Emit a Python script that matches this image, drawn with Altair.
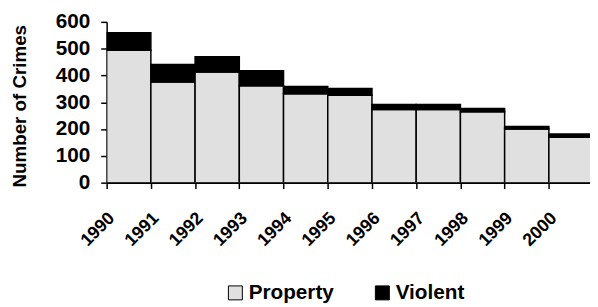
import altair as alt
import pandas as pd

years = [1990, 1991, 1992, 1993, 1994, 1995, 1996, 1997, 1998, 1999, 2000]
property_crimes = [494, 376, 413, 362, 332, 326, 273, 273, 265, 200, 169]
violent_crimes = [65, 65, 57, 56, 27, 25, 19, 19, 12, 10, 13]
categories = ["Property", "Violent"]
colors = ["#e0e0e0", "#000000"]
y_ticks = [0, 100, 200, 300, 400, 500, 600]

rows = []
for y, p, v in zip(years, property_crimes, violent_crimes):
    rows.append({"year": y, "type": "Property", "value": p, "ord": 0})
    rows.append({"year": y, "type": "Violent", "value": v, "ord": 1})
df = pd.DataFrame(rows)

FONT = "Liberation Sans"

chart = alt.Chart(df).transform_calculate(
    year_end="datum.year + 1"
).transform_stack(
    stack="value", groupby=["year"], as_=["v0", "v1"],
    sort=[alt.SortField("ord", order="ascending")]
).mark_bar(stroke="black", strokeWidth=1.5, clip=True).encode(
    x=alt.X("year:Q",
            scale=alt.Scale(domain=[1990, 2000.93], nice=False, zero=False),
            axis=alt.Axis(values=years, format="d", labelAngle=-45, labelAlign="right",
                          labelBaseline="middle", labelPadding=27, labelOffset=5,
                          tickSize=6, title=None, labelFontSize=18, labelFont=FONT,
                          labelFontWeight="bold")),
    x2="year_end:Q",
    y=alt.Y("v0:Q",
            scale=alt.Scale(domain=[0, 600], nice=False),
            axis=alt.Axis(values=y_ticks, tickSize=6, labelPadding=11,
                          title="Number of Crimes", titleX=-78, titleY=85,
                          labelFontSize=21, labelFont=FONT, labelFontWeight="bold",
                          titleFontSize=19, titleFont=FONT, titleFontWeight="bold")),
    y2="v1:Q",
    fill=alt.Fill("type:N", scale=alt.Scale(domain=categories, range=colors),
                  legend=alt.Legend(title=None, orient="none", legendX=120, legendY=264,
                                    direction="horizontal", symbolType="square",
                                    symbolSize=200, symbolStrokeColor="black",
                                    symbolStrokeWidth=1, labelFontSize=21,
                                    labelFont=FONT, labelFontWeight="bold",
                                    columnPadding=38, labelOffset=3)),
).properties(
    width=490, height=163,
    padding={"left": 100, "top": 12, "right": 0, "bottom": 124},
    autosize=alt.AutoSizeParams(type="none"),
).configure_axis(
    domainColor="black", domainWidth=1.5, tickColor="black", tickWidth=1.5,
    labelColor="black", titleColor="black", grid=False,
).configure_view(stroke=None)

chart.save("out.html", embed_options={"renderer": "svg", "actions": False})
